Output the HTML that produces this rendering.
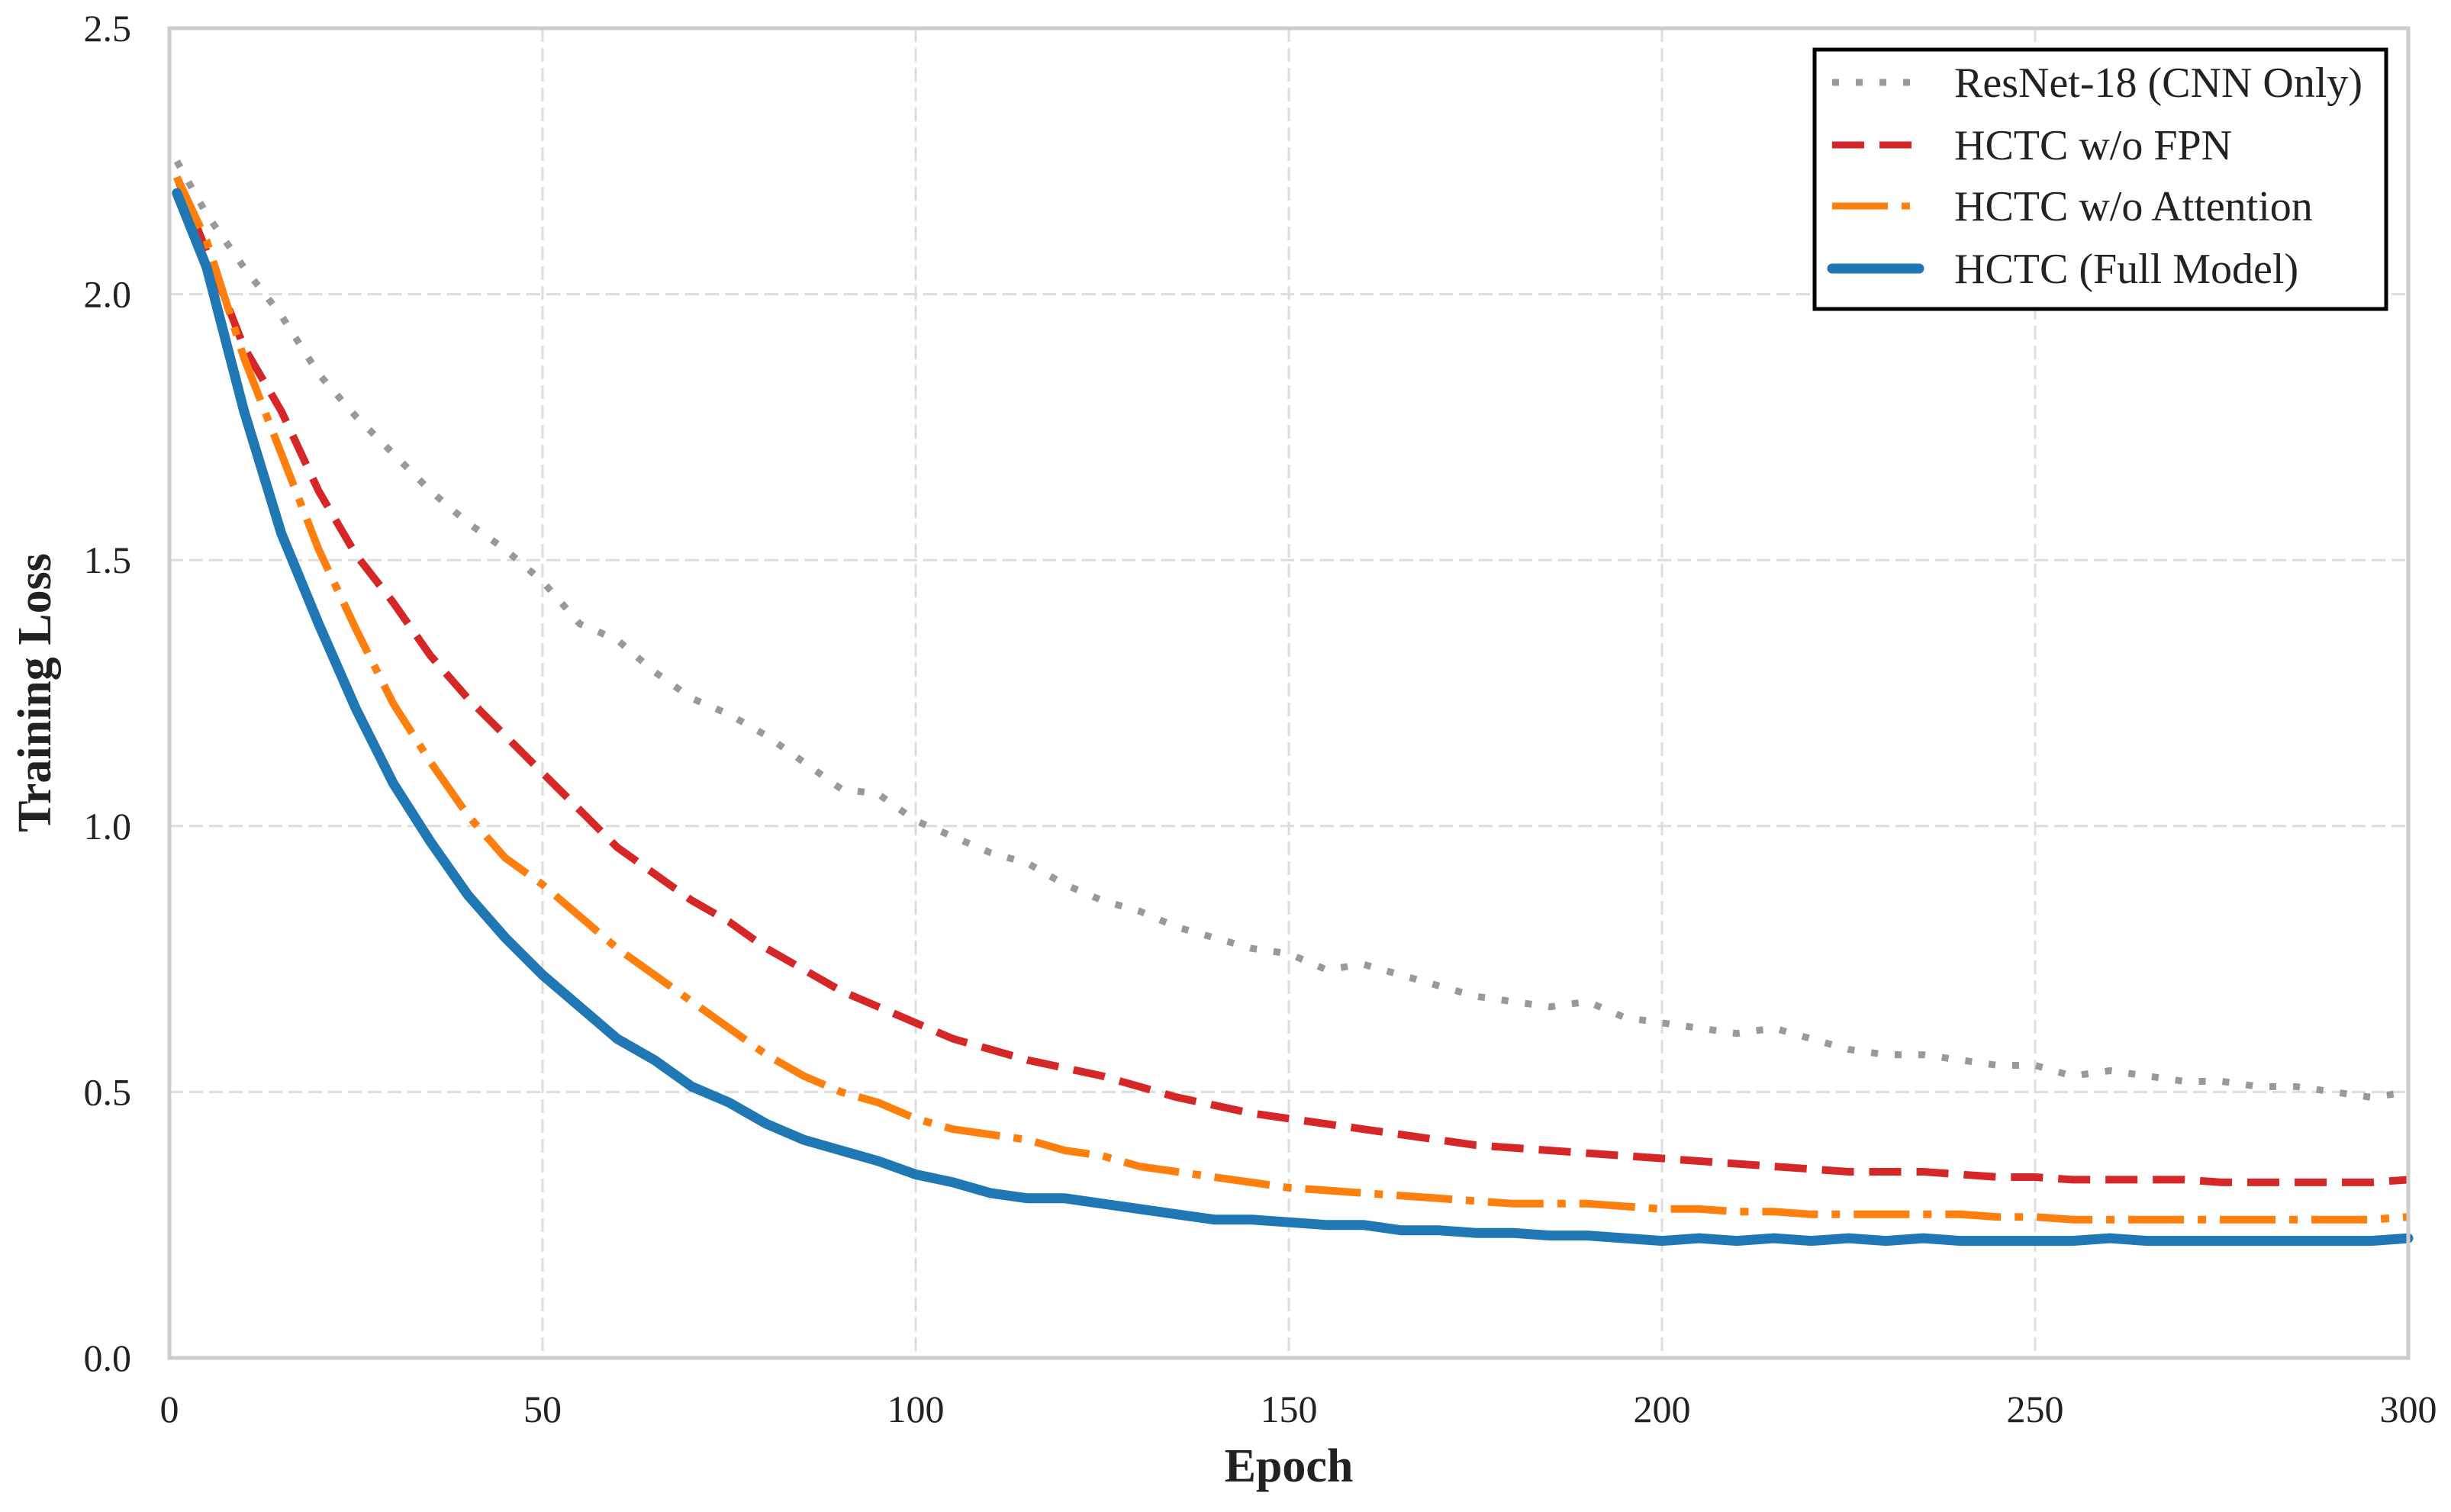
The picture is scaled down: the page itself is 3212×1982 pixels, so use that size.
<!DOCTYPE html>
<html><head><meta charset="utf-8"><style>
html,body{margin:0;padding:0;background:#fff}
svg{display:block;font-family:"Liberation Serif",serif}
</style></head><body>
<svg id="chart" width="3212" height="1982" viewBox="0 0 3212 1982" xmlns="http://www.w3.org/2000/svg">
<rect width="3212" height="1982" fill="#fff"/>
<g id="grid"></g>
<g id="series"></g>
<rect x="222" y="37" width="2934" height="1743" fill="none" stroke="#cccccc" stroke-width="5"/>
<g id="ticks" font-size="50" fill="#222"></g>
<text x="1689" y="1942" font-size="62" font-weight="bold" text-anchor="middle" fill="#222">Epoch</text>
<text transform="translate(66,908) rotate(-90)" font-size="62" font-weight="bold" text-anchor="middle" fill="#222">Training Loss</text>
<g>
<rect x="2378" y="65" width="749" height="340" fill="#fff" stroke="#000" stroke-width="5"/>
<g><line x1="2401" y1="108" x2="2505" y2="108" stroke="#999" stroke-width="9" stroke-dasharray="9,22"/><text x="2561" y="127" font-size="56" fill="#222">ResNet-18 (CNN Only)</text></g>
<g><line x1="2401" y1="190" x2="2505" y2="190" stroke="#d62728" stroke-width="9" stroke-dasharray="42,20"/><text x="2561" y="209" font-size="56" fill="#222">HCTC w/o FPN</text></g>
<g><line x1="2401" y1="270" x2="2505" y2="270" stroke="#ff7f0e" stroke-width="9" stroke-dasharray="73,18,11,18"/><text x="2561" y="289" font-size="56" fill="#222">HCTC w/o Attention</text></g>
<g><line x1="2401" y1="352" x2="2515" y2="352" stroke="#1f77b4" stroke-width="13" stroke-linecap="round"/><text x="2561" y="371" font-size="56" fill="#222">HCTC (Full Model)</text></g>
</g>
</svg>
<script>
const epochs=[1,5,10,15,20,25,30,35,40,45,50,55,60,65,70,75,80,85,90,95,100,105,110,115,120,125,130,135,140,145,150,155,160,165,170,175,180,185,190,195,200,205,210,215,220,225,230,235,240,245,250,255,260,265,270,275,280,285,290,295,300];
const resnetLoss=[2.25,2.15,2.05,1.96,1.85,1.77,1.70,1.63,1.57,1.52,1.46,1.38,1.35,1.29,1.24,1.21,1.17,1.12,1.07,1.06,1.01,0.98,0.95,0.93,0.89,0.86,0.84,0.81,0.79,0.77,0.76,0.73,0.74,0.72,0.70,0.68,0.67,0.66,0.67,0.64,0.63,0.62,0.61,0.62,0.60,0.58,0.57,0.57,0.56,0.55,0.55,0.53,0.54,0.53,0.52,0.52,0.51,0.51,0.50,0.49,0.50];
const noFpnLoss=[2.22,2.08,1.90,1.78,1.63,1.51,1.42,1.32,1.24,1.17,1.10,1.03,0.96,0.91,0.86,0.82,0.77,0.73,0.69,0.66,0.63,0.60,0.58,0.56,0.545,0.53,0.51,0.49,0.475,0.46,0.45,0.44,0.43,0.42,0.41,0.40,0.395,0.39,0.385,0.38,0.375,0.37,0.365,0.36,0.355,0.35,0.35,0.35,0.345,0.34,0.34,0.335,0.335,0.335,0.335,0.33,0.33,0.33,0.33,0.33,0.335];
const noAttnLoss=[2.22,2.10,1.88,1.70,1.52,1.37,1.23,1.12,1.02,0.94,0.89,0.83,0.77,0.72,0.67,0.62,0.57,0.53,0.50,0.48,0.45,0.43,0.42,0.41,0.39,0.38,0.36,0.35,0.34,0.33,0.32,0.315,0.31,0.305,0.30,0.295,0.29,0.29,0.29,0.285,0.28,0.28,0.275,0.275,0.27,0.27,0.27,0.27,0.27,0.265,0.265,0.26,0.26,0.26,0.26,0.26,0.26,0.26,0.26,0.26,0.265];
const fullLoss=[2.19,2.05,1.78,1.55,1.38,1.22,1.08,0.97,0.87,0.79,0.72,0.66,0.60,0.56,0.51,0.48,0.44,0.41,0.39,0.37,0.345,0.33,0.31,0.30,0.30,0.29,0.28,0.27,0.26,0.26,0.255,0.25,0.25,0.24,0.24,0.235,0.235,0.23,0.23,0.225,0.22,0.225,0.22,0.225,0.22,0.225,0.22,0.225,0.22,0.22,0.22,0.22,0.225,0.22,0.22,0.22,0.22,0.22,0.22,0.22,0.225];
const xTicks=[0,50,100,150,200,250,300];
const yTicks=[0.0,0.5,1.0,1.5,2.0,2.5];
const X0=222,X1=3156,Y0=1780,Y1=37;
const xScale=e=>X0+(e/300)*(X1-X0);
const yScale=v=>Y0-(v/2.5)*(Y0-Y1);
const NS="http://www.w3.org/2000/svg";
const grid=document.getElementById('grid'),ticks=document.getElementById('ticks'),series=document.getElementById('series');
xTicks.forEach(t=>{
  const l=document.createElementNS(NS,'line');
  
  
  l.setAttribute('x1',xScale(t));l.setAttribute('x2',xScale(t));l.setAttribute('y1',Y1);l.setAttribute('y2',Y0);
  l.setAttribute('stroke','#dddddd');l.setAttribute('stroke-width','3');l.setAttribute('stroke-dasharray','18,8');
  grid.appendChild(l);
  const tx=document.createElementNS(NS,'text');
  
  
  tx.setAttribute('x',xScale(t));tx.setAttribute('y',1864);tx.setAttribute('text-anchor','middle');
  tx.textContent=String(t);ticks.appendChild(tx);
});
yTicks.forEach(t=>{
  const l=document.createElementNS(NS,'line');
  
  
  l.setAttribute('x1',X0);l.setAttribute('x2',X1);l.setAttribute('y1',yScale(t));l.setAttribute('y2',yScale(t));
  l.setAttribute('stroke','#dddddd');l.setAttribute('stroke-width','3');l.setAttribute('stroke-dasharray','18,8');
  grid.appendChild(l);
  const tx=document.createElementNS(NS,'text');
  
  
  tx.setAttribute('x',172);tx.setAttribute('y',yScale(t)+17);tx.setAttribute('text-anchor','end');
  tx.textContent=t.toFixed(1);ticks.appendChild(tx);
});
function drawLine(vals,color,width,dash,name){
  const p=document.createElementNS(NS,'path');
  
  
  p.setAttribute('d',vals.map((v,i)=>(i?'L':'M')+xScale(epochs[i]).toFixed(1)+','+yScale(v).toFixed(1)).join(''));
  p.setAttribute('fill','none');p.setAttribute('stroke',color);p.setAttribute('stroke-width',width);
  p.setAttribute('stroke-linejoin','round');
  if(dash)p.setAttribute('stroke-dasharray',dash);else p.setAttribute('stroke-linecap','round');
  series.appendChild(p);
}
drawLine(resnetLoss,'#999999',9,'9,22','resnet18-line');
drawLine(noFpnLoss,'#d62728',10,'42,20','hctc-no-fpn-line');
drawLine(noAttnLoss,'#ff7f0e',10,'73,18,11,18','hctc-no-attention-line');
drawLine(fullLoss,'#1f77b4',13,null,'hctc-full-model-line');
</script>
</body></html>
